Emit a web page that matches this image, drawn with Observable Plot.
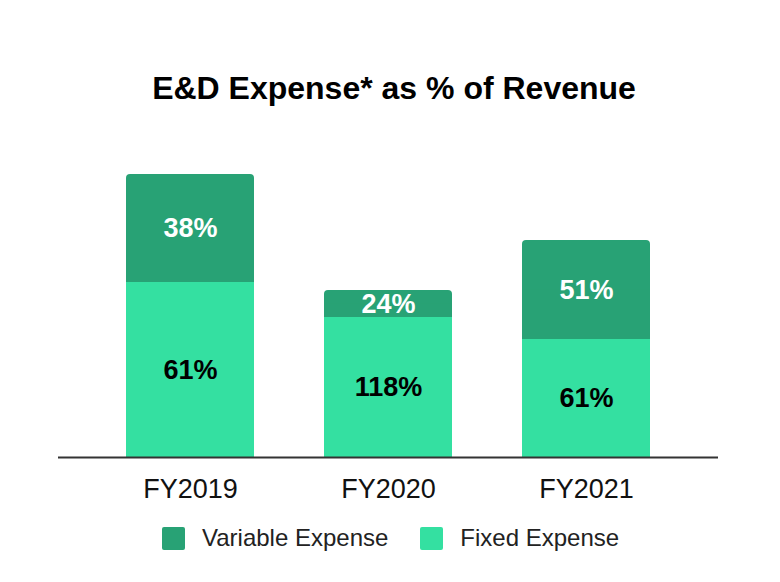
<!DOCTYPE html>
<html>
<head>
<meta charset="utf-8">
<script src="https://cdn.jsdelivr.net/npm/d3@7"></script>
<script src="https://cdn.jsdelivr.net/npm/@observablehq/plot@0.6"></script>
<style>
  html, body { margin: 0; padding: 0; background: #fff; }
  #wrap { position: relative; width: 780px; height: 582px; font-family: "Liberation Sans", Arial, sans-serif; }
  #title { position: absolute; left: 0; top: 72px; width: 788px; text-align: center; font-size: 32px; line-height: 32px; font-weight: bold; color: #000; }
  #chart { position: absolute; left: 0; top: 0; }
  #legend { position: absolute; left: 162px; top: 526px; display: flex; align-items: center; font-size: 24px; line-height: 24px; color: #222; }
  .sw { width: 23px; height: 23px; border-radius: 2px; display: inline-block; }
  .item { display: flex; align-items: center; }
</style>
</head>
<body>
<div id="wrap">
  <div id="chart"></div>
  <div id="title">E&amp;D Expense* as % of Revenue</div>
  <div id="legend"></div>
</div>
<script>
// Data
const years = ["FY2019", "FY2020", "FY2021"];
const fixedAmount = [175, 140, 118];      // bar segment sizes (relative expense)
const variableAmount = [108, 27, 99];
const fixedLabels = ["61%", "118%", "61%"];
const variableLabels = ["38%", "24%", "51%"];
const seriesNames = ["Variable Expense", "Fixed Expense"];
const seriesColors = ["#28a275", "#34e0a1"];

const rows = years.map((y, i) => ({
  year: y,
  fixed: fixedAmount[i],
  variable: variableAmount[i],
  total: fixedAmount[i] + variableAmount[i],
  fixedLabel: fixedLabels[i],
  variableLabel: variableLabels[i]
}));

const chart = Plot.plot({
  width: 780,
  height: 582,
  marginLeft: 58,
  marginRight: 62,
  marginTop: 157,
  marginBottom: 125,
  style: { fontFamily: "Liberation Sans, Arial, sans-serif", background: "transparent" },
  x: { domain: years, paddingInner: 0.3535, paddingOuter: 0.343, label: null },
  y: { domain: [0, 300], axis: null },
  marks: [
    // variable segment with rounded top
    Plot.rectY(rows, { x: "year", y1: "fixed", y2: "total", fill: seriesColors[0], rx: 4 }),
    // square-off bottom of variable segment
    Plot.barY(rows, { x: "year", y1: "fixed", y2: d => d.fixed + d.variable / 2, fill: seriesColors[0] }),
    // fixed segment
    Plot.barY(rows, { x: "year", y1: 0, y2: "fixed", fill: seriesColors[1] }),
    Plot.text(rows, { x: "year", y: d => d.fixed + d.variable / 2, text: "variableLabel", fill: "#fff", fontSize: 27, fontWeight: "bold" }),
    Plot.text(rows, { x: "year", y: d => d.fixed / 2, text: "fixedLabel", fill: "#000", fontSize: 27, fontWeight: "bold" }),
    Plot.ruleY([0], { stroke: "#333", strokeWidth: 2 }),
    Plot.axisX({ tickSize: 0, tickPadding: 21, fontSize: 27, fill: "#111", label: null })
  ]
});
document.getElementById("chart").appendChild(chart);

const legend = document.getElementById("legend");
seriesNames.forEach((name, i) => {
  const item = document.createElement("div");
  item.className = "item";
  item.style.marginRight = i === 0 ? "32px" : "0";
  const sw = document.createElement("span");
  sw.className = "sw";
  sw.style.background = seriesColors[i];
  const t = document.createElement("span");
  t.textContent = name;
  t.style.marginLeft = "17px";
  item.appendChild(sw);
  item.appendChild(t);
  legend.appendChild(item);
});
</script>
</body>
</html>
